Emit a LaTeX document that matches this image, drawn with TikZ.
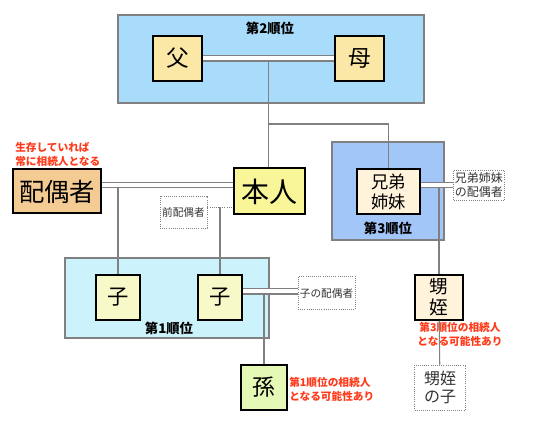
\documentclass[tikz,border=0pt]{standalone}
\usepackage{fontspec}
\setmainfont{Noto Sans CJK JP}
\usetikzlibrary{positioning, calc, backgrounds}
\definecolor{rankblue}{RGB}{168, 220, 250}
\definecolor{rankdeep}{RGB}{162, 198, 248}
\definecolor{rankcyan}{RGB}{204, 242, 251}
\definecolor{parentbeige}{RGB}{251, 232, 166}
\definecolor{selfyellow}{RGB}{249, 246, 154}
\definecolor{spouseorange}{RGB}{244, 203, 146}
\definecolor{siblingcream}{RGB}{255, 243, 220}
\definecolor{childlime}{RGB}{247, 250, 200}
\definecolor{grandgreen}{RGB}{230, 248, 182}
\definecolor{notered}{RGB}{255, 58, 26}
\definecolor{linegray}{RGB}{128, 128, 128}
\tikzset{
  famline/.style={draw=linegray, line width=0.8pt},
  pairline/.style={draw=linegray, line width=0.8pt, double=white, double distance=3pt},
  exline/.style={draw=linegray, line width=0.6pt, densely dotted}
}

\begin{document}
\begin{tikzpicture}[x=0.75pt, y=-0.75pt,
    rankbox/.style={draw=linegray, line width=1.2pt},
    pbox/.style={draw=black, line width=1.5pt, inner sep=0pt, align=center},
    exbox/.style={draw=gray, densely dotted, line width=0.6pt, inner sep=1pt, align=center, text=black!80, font=\fontsize{8}{9.5}\selectfont},
    ranklabel/.style={font=\fontsize{10}{12}\selectfont\bfseries},
    note/.style={text=notered, font=\fontsize{8}{10.5}\selectfont\bfseries, inner sep=0pt}]
    \useasboundingbox (0,0) rectangle (537,431);
    % 順位の枠
    \draw[rankbox, fill=rankblue] (118,15) rectangle (424,103);
    \draw[rankbox, fill=rankdeep] (332,142) rectangle (444,240);
    \draw[rankbox, fill=rankcyan] (65,258) rectangle (269,338);
    \node[ranklabel] (r2) at (270,28) {第2順位};
    \node[ranklabel] (r3) at (388,228) {第3順位};
    \node[ranklabel] (r1) at (169,328) {第1順位};
    % 親
    \node (fa) [pbox, fill=parentbeige, minimum width=36.75pt, minimum height=33.75pt, font=\fontsize{17}{20}\selectfont] at (177.5,58.5) {父};
    \node (mo) [pbox, fill=parentbeige, minimum width=36.75pt, minimum height=33.75pt, font=\fontsize{17}{20}\selectfont] at (359.5,58.5) {母};
    % 本人と配偶者
    \node (honnin) [pbox, fill=selfyellow, minimum width=53.25pt, minimum height=34.5pt, font=\fontsize{21}{24}\selectfont] at (269.5,191.5) {本人};
    \node (haigu) [pbox, fill=spouseorange, minimum width=66pt, minimum height=33pt, font=\fontsize{19}{22}\selectfont] at (57,191.5) {配偶者};
    \node (zenhai) [exbox] [minimum width=35.25pt, minimum height=24pt] at (183.5,212) {前配偶者};
    % 兄弟姉妹
    \node (kyodai) [pbox, fill=siblingcream, minimum width=47.25pt, minimum height=33.75pt, font=\fontsize{13}{15}\selectfont] at (388.5,191.5) {兄弟\\姉妹};
    \node (kyohai) [exbox, font=\fontsize{9}{10}\selectfont, minimum width=36pt, minimum height=22.5pt] at (479,185) {兄弟姉妹\\の配偶者};
    \node (oime) [pbox, fill=siblingcream, minimum width=36pt, minimum height=33.75pt, font=\fontsize{14}{16}\selectfont] at (439,297.5) {甥\\姪};
    \node (oimeko) [exbox, font=\fontsize{12}{14}\selectfont, minimum width=38.25pt, minimum height=33.75pt] at (440,387.5) {甥姪\\の子};
    % 子と孫
    \node (ko1) [pbox, fill=childlime, minimum width=33pt, minimum height=33.75pt, font=\fontsize{16}{19}\selectfont] at (118,297.5) {子};
    \node (ko2) [pbox, fill=childlime, minimum width=33pt, minimum height=33.75pt, font=\fontsize{16}{19}\selectfont] at (220,297.5) {子};
    \node (kohai) [exbox, minimum width=42.75pt, minimum height=24.75pt] at (326.5,293) {子の配偶者};
    \node (mago) [pbox, fill=grandgreen, minimum width=34.5pt, minimum height=33.75pt, font=\fontsize{17}{20}\selectfont] at (264,387.5) {孫};
    % 注記
    \node[note, anchor=south west, align=left] (n0) at (15,167) {生存していれば\\常に相続人となる};
    \node[note, align=center] (n3) at (460,334) {第3順位の相続人\\となる可能性あり};
    \node[note, anchor=west, align=left] (n1) at (289,389) {第1順位の相続人\\となる可能性あり};
    % 父母 -> 本人・兄弟姉妹
    \draw[pairline] (fa) -- (mo);
    \coordinate (oyamid) at ($(fa.east)!0.5!(mo.west)+(0,3)$);
    \draw[famline] (oyamid) -- (oyamid |- honnin.north);
    \coordinate (branch) at (oyamid |- 0,124);
    \draw[famline] (branch) -| (kyodai.north);
    % 配偶者 -> 子
    \draw[pairline] ([yshift=4.9pt]haigu.east) -- ([yshift=4.9pt]honnin.west);
    \coordinate (fuufu) at ([yshift=3pt]haigu.east);
    \draw[famline] (ko1.north) -- (ko1.north |- fuufu);
    % 前配偶者 -> 子
    \draw[exline] ([yshift=3.75pt]zenhai.east) coordinate (zen) -- (zen -| honnin.west);
    \draw[famline] (ko2.north) -- (ko2.north |- zen);
    % 兄弟姉妹 -> 甥姪
    \draw[pairline] ([yshift=4.9pt]kyodai.east) coordinate (kyo) -- (kyo -| kyohai.west);
    \coordinate (kyolow) at ([yshift=3pt]kyodai.east);
    \draw[famline] (oime.north) -- (oime.north |- kyolow);
    \draw[famline] (oime) -- (oimeko);
    % 子 -> 孫
    \draw[pairline] ([yshift=4.5pt]ko2.east) coordinate (kol) -- (kol -| kohai.west);
    \coordinate (kolow) at ([yshift=2.6pt]ko2.east);
    \draw[famline] (mago.north) -- (mago.north |- kolow);
\end{tikzpicture}
\end{document}
